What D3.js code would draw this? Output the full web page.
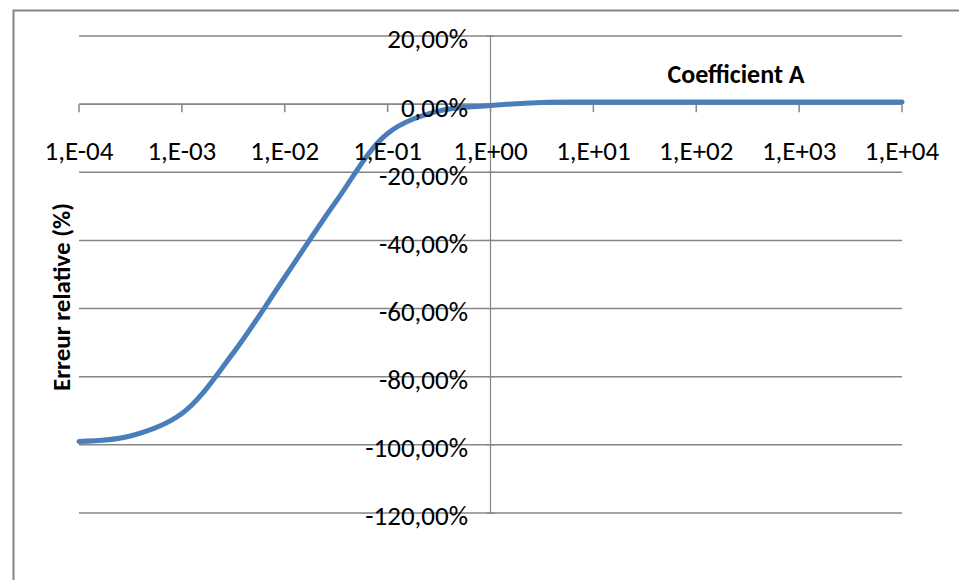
<!DOCTYPE html>
<html><head><meta charset="utf-8">
<script src="https://cdn.jsdelivr.net/npm/d3@7"></script>
<style>body{margin:0;background:#fff}svg{display:block}text{font-family:Carlito,Calibri,Lato,sans-serif}</style>
</head><body><svg id="c" width="959" height="580"></svg>
<script>
const xValues = [1e-4, 3.162e-4, 1e-3, 3.162e-3, 1e-2, 3.162e-2, 1e-1, 3.162e-1, 1, 3.162, 10, 100, 1000, 10000];
const errValues = [-99.0, -97.4, -90.8, -73.0, -50.8, -28.5, -8.6, -2.0, -0.4, 0.5, 0.6, 0.6, 0.6, 0.6];
const xTicks = [1e-4, 1e-3, 1e-2, 1e-1, 1, 10, 100, 1000, 10000];
const xTickLabels = ["1,E-04","1,E-03","1,E-02","1,E-01","1,E+00","1,E+01","1,E+02","1,E+03","1,E+04"];
const yTicks = [20, 0, -20, -40, -60, -80, -100, -120];
const yTickLabels = ["20,00%","0,00%","-20,00%","-40,00%","-60,00%","-80,00%","-100,00%","-120,00%"];
const seriesName = "Coefficient A";
const yTitle = "Erreur relative (%)";

const svg = d3.select("#c");
const x = d3.scaleLog().domain([1e-4, 1e4]).range([79, 902]);
const y = d3.scaleLinear().domain([-120, 20]).range([513, 36]);
const grey = "#868686";

// frame
svg.append("path").attr("d","M13.5,600 V10.5 H960").attr("fill","none").attr("stroke",grey).attr("stroke-width",2);

// gridlines
svg.append("g").selectAll("line").data(yTicks).join("line")
  .attr("x1", x(1e-4)).attr("x2", x(1e4))
  .attr("y1", d => y(d)).attr("y2", d => y(d))
  .attr("stroke", grey).attr("stroke-width", 1.5);

// y axis (crosses at x=1)
const x0 = x(1);
svg.append("line").attr("x1", x0).attr("x2", x0).attr("y1", y(20)).attr("y2", y(-120))
  .attr("stroke", grey).attr("stroke-width", 1.2);
svg.append("g").selectAll("line").data(yTicks).join("line")
  .attr("x1", x0 - 4).attr("x2", x0 + 4).attr("y1", d => y(d)).attr("y2", d => y(d))
  .attr("stroke", grey).attr("stroke-width", 1.2);

// x axis (crosses at y=0)
const y0 = y(0);
svg.append("line").attr("x1", x(1e-4)).attr("x2", x(1e4)).attr("y1", y0).attr("y2", y0)
  .attr("stroke", grey).attr("stroke-width", 1.5);
svg.append("g").selectAll("line").data(xTicks).join("line")
  .attr("x1", d => x(d)).attr("x2", d => x(d)).attr("y1", y0).attr("y2", y0 + 8)
  .attr("stroke", grey).attr("stroke-width", 1.5);

// line
const line = d3.line().x((d,i) => x(xValues[i])).y(d => y(d)).curve(d3.curveCatmullRom.alpha(0.5));
svg.append("path").datum(errValues).attr("d", line).attr("fill","none")
  .attr("stroke","#4a7ebb").attr("stroke-width",5).attr("stroke-linecap","round");

// y labels
svg.append("g").selectAll("text").data(yTicks).join("text")
  .attr("x", 468).attr("y", d => y(d) + 3).attr("dy","0.35em")
  .attr("text-anchor","end").attr("font-size", 27).attr("fill","#000")
  .text((d,i) => yTickLabels[i]);

// x labels
svg.append("g").selectAll("text").data(xTicks).join("text")
  .attr("x", d => x(d)).attr("y", 151).attr("dy","0.35em")
  .attr("text-anchor","middle").attr("font-size", 27).attr("fill","#000")
  .text((d,i) => xTickLabels[i]);

// series title
svg.append("text").attr("x", 736).attr("y", 74).attr("dy","0.35em").attr("text-anchor","middle")
  .attr("font-size", 26).attr("font-weight","bold").text(seriesName);

// y title
svg.append("text").attr("transform","translate(61,297) rotate(-90)").attr("dy","0.35em")
  .attr("text-anchor","middle").attr("font-size", 25).attr("font-weight","bold").text(yTitle);
</script></body></html>
